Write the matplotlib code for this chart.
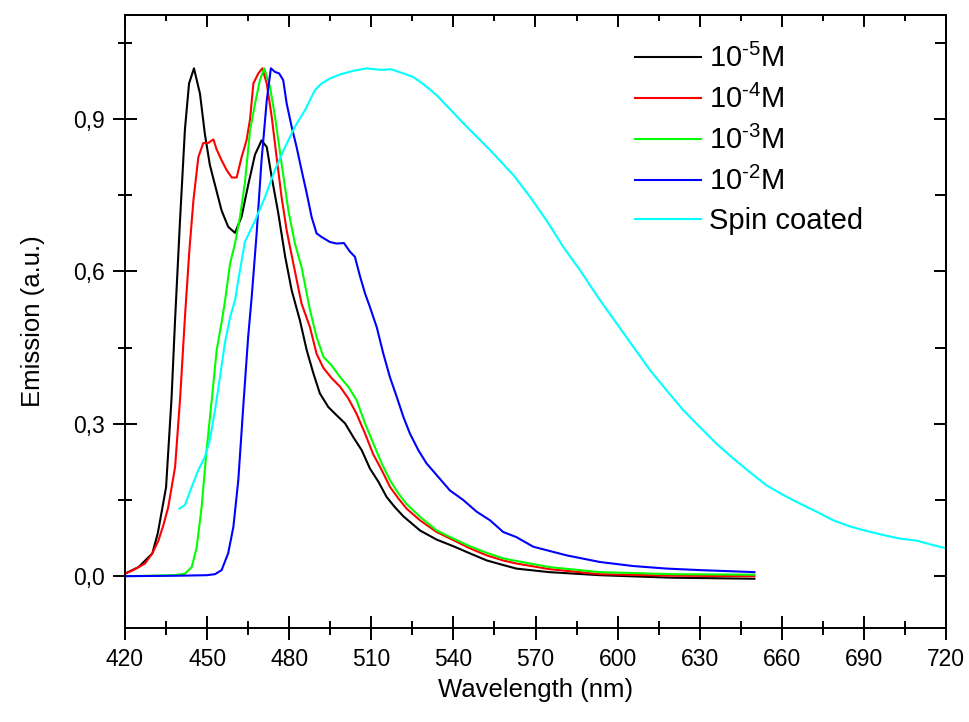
import matplotlib
matplotlib.use("Agg")
import matplotlib.pyplot as plt
from matplotlib.ticker import FuncFormatter


# =====================================================
# DATA
# =====================================================

wl_5 = [420, 425, 430, 432, 435, 437, 438.3, 440.1, 441.9, 443.4, 445.2, 447.4,
        449.2, 451, 452.9, 455.3, 457.7, 460.2, 462.6, 465, 467.5, 469.9, 471.8,
        473.6, 476, 478.5, 480.9, 483.9, 486.4, 488.8, 491.2, 494.3, 497.3, 500.4,
        503.4, 506.5, 509.5, 512.6, 515.6, 518.6, 521.7, 527.8, 533.9, 540, 546,
        552.2, 558.2, 563, 575, 593.5, 620, 650]
em_5 = [0.005, 0.018, 0.045, 0.085, 0.175, 0.35, 0.505, 0.70, 0.88, 0.97, 1.0, 0.95,
        0.87, 0.81, 0.77, 0.72, 0.688, 0.676, 0.708, 0.77, 0.83, 0.858, 0.845,
        0.786, 0.715, 0.63, 0.563, 0.504, 0.445, 0.40, 0.36, 0.333, 0.317, 0.301,
        0.274, 0.248, 0.212, 0.186, 0.156, 0.136, 0.118, 0.09, 0.072, 0.059, 0.045,
        0.031, 0.022, 0.015, 0.008, 0.002, -0.003, -0.005]

wl_4 = [420, 423, 427.3, 430, 432.2, 434, 435.8, 438.3, 440.1, 441.9, 443.5, 445,
        446.8, 448.6, 450.4, 452.3, 453.5, 455.3, 457.1, 459, 460.8, 462.6, 464.4,
        465.7, 466.9, 468.7, 470.2, 471.8, 473.6, 475.4, 477.2, 479.1, 481.5, 484.5,
        487.6, 490, 492.5, 495.5, 498.6, 501.6, 504.6, 507.7, 510.7, 513.8, 516.8,
        519.9, 522.9, 527.8, 533.9, 540, 546, 552.2, 558.2, 563, 575, 593.5, 620, 650]
em_4 = [0.005, 0.012, 0.025, 0.045, 0.07, 0.1, 0.136, 0.215, 0.347, 0.51, 0.64, 0.74,
        0.825, 0.853, 0.853, 0.86, 0.84, 0.819, 0.80, 0.785, 0.785, 0.825, 0.858,
        0.90, 0.97, 0.99, 1.0, 0.97, 0.905, 0.825, 0.747, 0.68, 0.616, 0.537,
        0.49, 0.438, 0.41, 0.39, 0.373, 0.35, 0.32, 0.281, 0.24, 0.209, 0.176,
        0.153, 0.133, 0.11, 0.087, 0.071, 0.055, 0.041, 0.031, 0.025, 0.014, 0.004,
        0.001, 0.0]

wl_3 = [420, 430, 438, 441.9, 444.4, 446.2, 448, 449.8, 451.7, 453.5, 455.3, 456.5,
        458.4, 460.2, 462, 463.8, 465.7, 467.5, 469.3, 470.9, 473, 474.8, 477.2,
        479.7, 482.1, 484.5, 487.6, 490, 492.5, 495.5, 498.6, 501.6, 504.6, 507.7,
        510.7, 513.8, 516.8, 519.9, 522.9, 527.8, 533.9, 540, 546, 552.2, 558.2,
        563, 575, 593.5, 620, 650]
em_3 = [0.0, 0.001, 0.002, 0.005, 0.018, 0.057, 0.136, 0.248, 0.347, 0.445, 0.50,
        0.54, 0.616, 0.655, 0.707, 0.774, 0.878, 0.93, 0.977, 1.0, 0.963, 0.905,
        0.813, 0.72, 0.655, 0.609, 0.524, 0.471, 0.432, 0.415, 0.392, 0.373, 0.347,
        0.301, 0.262, 0.222, 0.189, 0.163, 0.142, 0.117, 0.09, 0.074, 0.059, 0.046,
        0.035, 0.03, 0.018, 0.008, 0.004, 0.003]

wl_2 = [420, 440, 450, 452.9, 455.3, 457.7, 459.6, 461.4, 463.2, 465, 466.3, 468.1,
        469.9, 471.8, 473.3, 474.8, 476.3, 477.8, 479.1, 480.9, 482.7, 484.5, 486.4,
        488.2, 490, 491.8, 494.9, 497.3, 500, 502.2, 504, 505.9, 507.7, 509.5, 512,
        514.4, 516.8, 519.3, 521.7, 524.1, 527.2, 530.2, 533.9, 538.7, 543.6, 548.5,
        553.4, 558.2, 563, 569.2, 581.4, 593.5, 605.7, 617.9, 630, 650]
em_2 = [0.0, 0.001, 0.002, 0.004, 0.012, 0.045, 0.097, 0.189, 0.333, 0.471, 0.55,
        0.675, 0.819, 0.937, 1.0, 0.993, 0.99, 0.977, 0.93, 0.885, 0.845, 0.80,
        0.754, 0.707, 0.675, 0.668, 0.658, 0.655, 0.656, 0.639, 0.629, 0.59, 0.557,
        0.53, 0.49, 0.438, 0.392, 0.353, 0.314, 0.281, 0.248, 0.222, 0.199, 0.169,
        0.15, 0.127, 0.11, 0.087, 0.077, 0.058, 0.041, 0.028, 0.02, 0.015, 0.012,
        0.008]

wl_spin = [439.9, 441.9, 444.4, 446.8, 449.2, 451, 452.9, 454.7, 456.5, 458.4, 460.2,
           461.4, 463.8, 467.5, 471.2, 474.8, 478.5, 482.1, 485.8, 489.4, 491.8,
           494.9, 498.6, 503.4, 508.3, 513.2, 517.4, 521.7, 525.3, 529, 533.9, 538.7,
           543.6, 553.4, 561.9, 568, 574.1, 580.2, 586.2, 593.5, 599.6, 605.7, 611.8,
           617.9, 624, 630, 636.1, 642.2, 648.3, 654.4, 660.5, 666.6, 672.7, 678.8,
           684.9, 691, 697.1, 703.2, 709.3, 715.4, 720]
em_spin = [0.133, 0.14, 0.176, 0.209, 0.235, 0.268, 0.327, 0.392, 0.459, 0.51, 0.543,
           0.583, 0.658, 0.70, 0.747, 0.80, 0.845, 0.885, 0.918, 0.957, 0.97, 0.98,
           0.988, 0.995, 1.0, 0.997, 0.998, 0.99, 0.983, 0.969, 0.947, 0.92, 0.892,
           0.839, 0.79, 0.747, 0.70, 0.648, 0.603, 0.544, 0.498, 0.452, 0.406, 0.366,
           0.327, 0.294, 0.261, 0.232, 0.205, 0.179, 0.16, 0.143, 0.127, 0.11, 0.098,
           0.089, 0.081, 0.074, 0.07, 0.061, 0.055]

labels = [r"10$^{\text{-5}}$M", r"10$^{\text{-4}}$M", r"10$^{\text{-3}}$M",
          r"10$^{\text{-2}}$M", "Spin coated"]
colors = ["#000000", "#ff0000", "#00ff00", "#0000ff", "#00ffff"]

x_major = [420, 450, 480, 510, 540, 570, 600, 630, 660, 690, 720]
x_minor = [435, 465, 495, 525, 555, 585, 615, 645, 675, 705]
y_major = [0.0, 0.3, 0.6, 0.9]
y_minor = [0.15, 0.45, 0.75, 1.05]


# =====================================================
# PLOT
# =====================================================

plt.rcParams["font.family"] = ["Liberation Sans", "DejaVu Sans"]
plt.rcParams["mathtext.fontset"] = "custom"
plt.rcParams["mathtext.rm"] = "Liberation Sans"
plt.rcParams["mathtext.it"] = "Liberation Sans:italic"

fig = plt.figure(figsize=(9.7, 7.22), dpi=100)
ax = fig.add_axes([125 / 970, 94 / 722, 821 / 970, 613 / 722])

series = [(wl_5, em_5), (wl_4, em_4), (wl_3, em_3), (wl_2, em_2), (wl_spin, em_spin)]
for (x, y), c, lab in zip(series, colors, labels):
    ax.plot(x, y, color=c, lw=1.5, label=lab)

ax.set_xlim(420, 720)
ax.set_ylim(-0.102, 1.105)

ax.set_xticks(x_major)
ax.set_xticks(x_minor, minor=True)
ax.set_yticks(y_major)
ax.set_yticks(y_minor, minor=True)
ax.yaxis.set_major_formatter(FuncFormatter(lambda v, _: f"{v:.1f}".replace(".", ",")))

ax.tick_params(which="major", direction="inout", length=17, width=1.4,
               labelsize=16.5, pad=6)
ax.tick_params(which="minor", direction="inout", length=10, width=1.4)
for s in ax.spines.values():
    s.set_linewidth(1.4)

# top and right: inward ticks only, no labels
top = ax.secondary_xaxis("top")
top.set_xticks(x_major)
top.set_xticks(x_minor, minor=True)
top.tick_params(which="major", direction="in", length=8.5, width=1.4, labeltop=False)
top.tick_params(which="minor", direction="in", length=4, width=1.4)
top.spines["top"].set_linewidth(1.4)

right = ax.secondary_yaxis("right")
right.set_yticks(y_major)
right.set_yticks(y_minor, minor=True)
right.tick_params(which="major", direction="in", length=8.5, width=1.4, labelright=False)
right.tick_params(which="minor", direction="in", length=8, width=1.4)
right.spines["right"].set_linewidth(1.4)

ax.set_xlabel("Wavelength (nm)", fontsize=18.5, labelpad=5)
ax.set_ylabel("Emission (a.u.)", fontsize=18.5, labelpad=20)

ax.legend(loc="upper left", bbox_to_anchor=((635 - 125) / 821, (628 - 44) / 613),
          frameon=False, fontsize=21, handlelength=2.25, handletextpad=0.3,
          labelspacing=0.4, borderpad=0, borderaxespad=0)

fig.savefig("out.png", dpi=100)
plt.close(fig)
